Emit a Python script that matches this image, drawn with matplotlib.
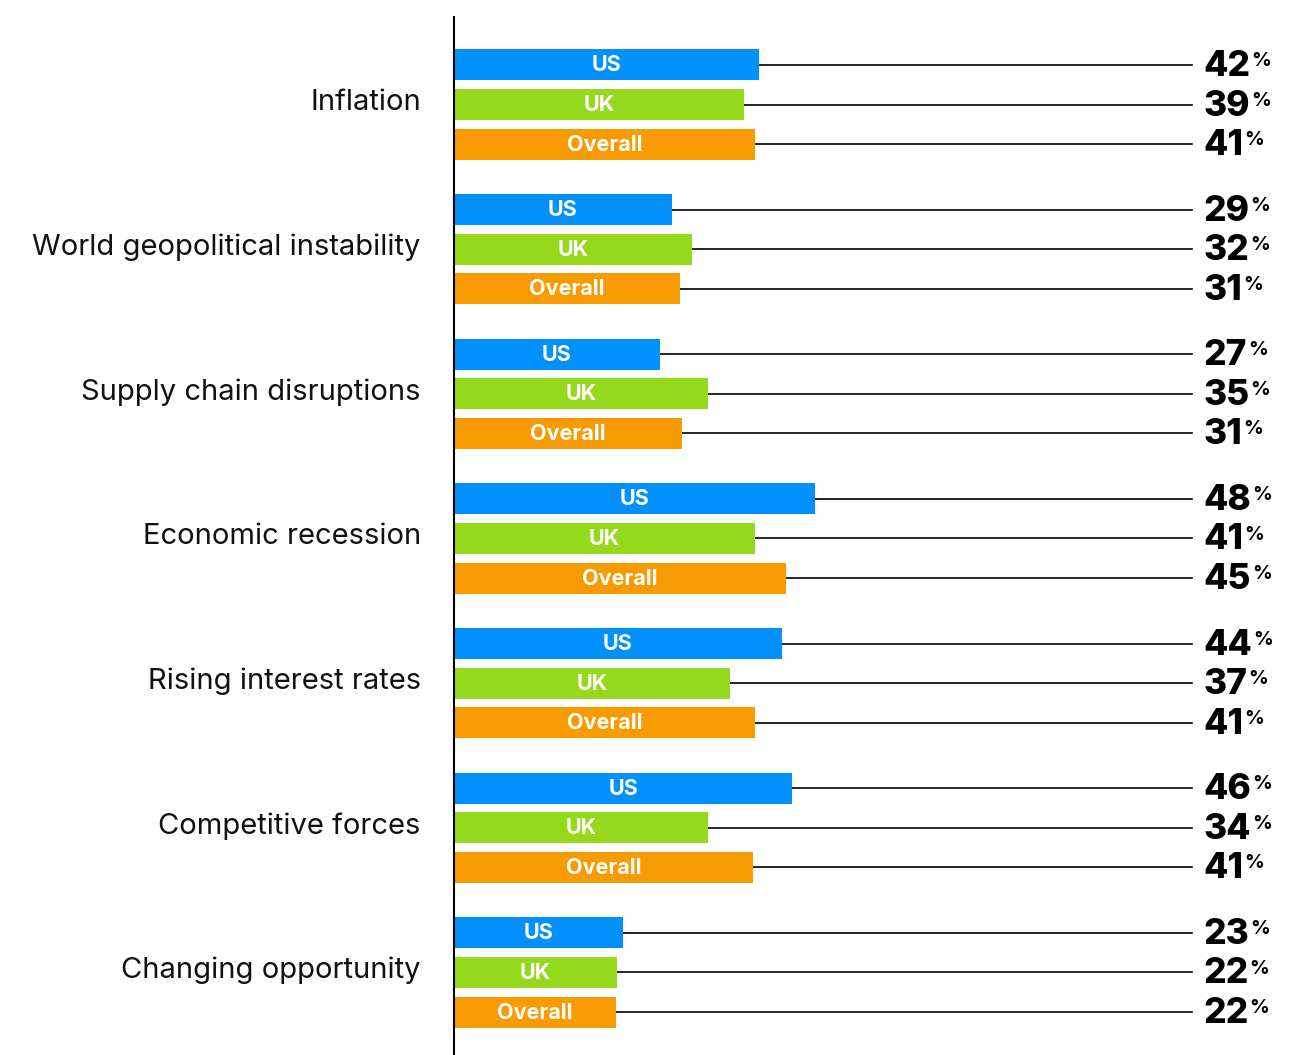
import numpy as np
import matplotlib
matplotlib.use('Agg')
import matplotlib.pyplot as plt

plt.rcParams['font.family'] = ['Inter', 'DejaVu Sans']

############### data
categories = ['Inflation', 'World geopolitical instability', 'Supply chain disruptions',
              'Economic recession', 'Rising interest rates', 'Competitive forces',
              'Changing opportunity']
series = ['US', 'UK', 'Overall']
# printed labels
us = [42, 29, 27, 48, 44, 46, 23]
uk = [39, 32, 35, 41, 37, 34, 22]
overall = [41, 31, 31, 45, 41, 41, 22]
# bar lengths as drawn in the picture
us_bar = [41.3, 29.5, 27.9, 48.9, 44.4, 45.8, 22.9]
uk_bar = [39.3, 32.2, 34.4, 40.8, 37.4, 34.4, 22.1]
overall_bar = [40.8, 30.6, 30.9, 45.0, 40.8, 40.5, 22.0]
colors = ['#0091ff', '#95d81c', '#f79b00']

############### layout
W, H = 1296, 1055
fig = plt.figure(figsize=(W / 100, H / 100), dpi=100)
ax = fig.add_axes([454 / W, 0, (1192 - 454) / W, (H - 17) / H])

row = 39.6
group = 144.8
bar_h = 31
labels = [us, uk, overall]
bars = [us_bar, uk_bar, overall_bar]

for g, cat in enumerate(categories):
    y0 = g * group
    for r, name in enumerate(series):
        y = y0 + r * row
        v = bars[r][g]
        ax.barh(y, v, height=bar_h, color=colors[r], zorder=2)
        ax.text(v / 2, y + 0.5, name, ha='center', va='center', color='white',
                fontsize=15.5, fontweight='bold', zorder=3)
        ax.plot([v, 100], [y, y], color='black', lw=1.2, zorder=1, clip_on=False)
        t = ax.text(101.5, y + 1.5, str(labels[r][g]), ha='left', va='center',
                    fontsize=25.5, fontweight='heavy', color='black', clip_on=False)
        ax.annotate('%', xy=(1, 1), xycoords=t, xytext=(1, -1.5),
                    textcoords='offset points', ha='left', va='top',
                    fontsize=14, fontweight='bold')
    ax.text(-4.5, y0 + row - 2, cat, ha='right', va='center', fontsize=21,
            color='#111111')

ax.set_xlim(0, 100)
ax.set_ylim(6 * group + 2 * row + 43, -48)
for s in ['top', 'right', 'bottom']:
    ax.spines[s].set_visible(False)
ax.spines['left'].set_linewidth(1.5)
ax.set_xticks([])
ax.set_yticks([])

plt.savefig('out.png', dpi=100)
